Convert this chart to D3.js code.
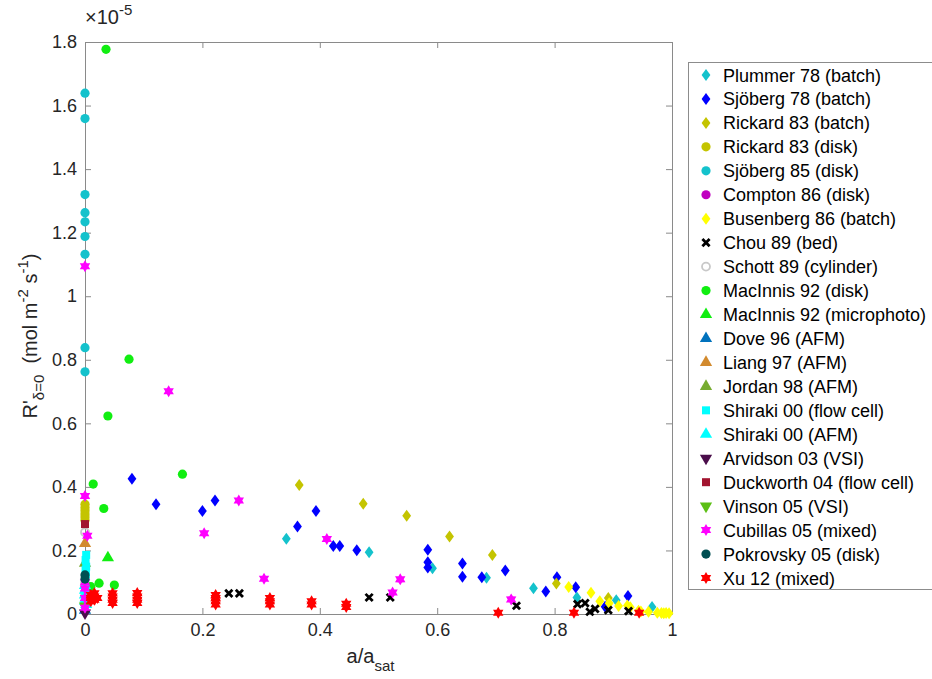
<!DOCTYPE html>
<html lang="en">
<head>
<meta charset="utf-8">
<title>Dissolution rate vs saturation</title>
<script src="https://cdn.jsdelivr.net/npm/d3@7"></script>
<style>
body { margin: 0; background: #fff; }
text { font-family: Arial, "Liberation Sans", sans-serif; }
</style>
</head>
<body>
<script>
// values: x = a/a_sat, y = R' in units of 1e-5 mol m-2 s-1
var plummer78 = [[0.343,0.237],[0.484,0.194],[0.592,0.144],[0.684,0.114],[0.764,0.081],[0.838,0.052],[0.905,0.043],[0.966,0.022]];
var sjoberg78 = [[0.080,0.426],[0.121,0.345],[0.200,0.324],[0.2215,0.357],[0.3935,0.324],[0.362,0.275],[0.423,0.214],[0.434,0.214],
  [0.463,0.201],[0.584,0.202],[0.584,0.163],[0.584,0.146],[0.643,0.159],[0.643,0.117],[0.676,0.116],[0.716,0.137],[0.785,0.071],
  [0.804,0.116],[0.836,0.084],[0.886,0.023],[0.925,0.057]];
var rickard83b = [[0.365,0.406],[0.474,0.347],[0.548,0.309],[0.621,0.244],[0.694,0.186],[0.803,0.096],[0.8915,0.050]];
var rickard83d = [[0,0.345],[0,0.335],[0,0.325],[0,0.315],[0,0.305],[0,0.295]];
var sjoberg85 = [[0,1.639],[0,1.559],[0,1.320],[0,1.263],[0,1.234],[0,1.188],[0,1.132],[0,0.838],[0,0.762]];
var compton86 = [[0.001,0.09],[0.001,0.06],[0.001,0.03]];
var busenberg86 = [[0.824,0.085],[0.862,0.067],[0.877,0.040],[0.893,0.034],[0.909,0.025],[0.924,0.027],[0.929,0.021],[0.943,0.010],
  [0.947,0.008],[0.960,0.007],[0.975,0.004],[0.982,0.003],[0.986,0.002],[0.990,0.003],[0.995,0.002]];
var chou89 = [[0.245,0.065],[0.263,0.065],[0.484,0.052],[0.520,0.052],[0.735,0.026],[0.839,0.031],[0.852,0.034],[0.860,0.007],
  [0.869,0.016],[0.8915,0.012],[0.926,0.009]];
var schott89 = [[0,0.257],[0,0.097],[0,0.06]];
var macinnis92d = [[0.0358,1.777],[0.075,0.802],[0.039,0.623],[0.166,0.440],[0.014,0.409],[0.032,0.332],[0.010,0.086],[0.024,0.097],[0.050,0.091]];
var macinnis92m = [[0.039,0.177]];
var dove96 = [[0,0.012]];
var liang97 = [[0,0.222]];
var jordan98 = [[0,0.16]];
var shiraki00f = [[0.002,0.186],[0.001,0.17],[0.002,0.149],[0.001,0.138],[0.0015,0.125]];
var shiraki00a = [[0,0.09],[0,0.075],[0,0.06],[0.001,0.05],[0,0.04],[0.002,0.03]];
var arvidson03 = [[0,0.003]];
var duckworth04 = [[0,0.283]];
var vinson05 = [[0,0.025]];
var cubillas05 = [[0,1.094],[0.1425,0.701],[0,0.371],[0.004,0.246],[0.203,0.254],[0.262,0.357],[0.305,0.111],[0.412,0.236],
  [0.524,0.068],[0.537,0.109],[0.726,0.046],[0,0.10],[0,0.08],[0,0.05],[0,0.02]];
var pokrovsky05 = [[0,0.123],[0,0.11]];
var xu12 = [[0.010,0.04],[0.010,0.05],[0.010,0.06],[0.016,0.045],[0.016,0.055],[0.016,0.065],[0.021,0.05],
  [0.047,0.035],[0.047,0.045],[0.047,0.055],[0.047,0.065],[0.089,0.035],[0.089,0.045],[0.089,0.055],[0.089,0.066],
  [0.2226,0.03],[0.2226,0.04],[0.2226,0.05],[0.2226,0.06],[0.315,0.03],[0.315,0.04],[0.315,0.05],
  [0.386,0.03],[0.386,0.04],[0.445,0.022],[0.445,0.032],[0.704,0.004],[0.833,0.004],[0.944,0.004]];

var seriesNames = ["Plummer 78 (batch)","Sjöberg 78 (batch)","Rickard 83 (batch)","Rickard 83 (disk)","Sjöberg 85 (disk)",
  "Compton 86 (disk)","Busenberg 86 (batch)","Chou 89 (bed)","Schott 89 (cylinder)","MacInnis 92 (disk)",
  "MacInnis 92 (microphoto)","Dove 96 (AFM)","Liang 97 (AFM)","Jordan 98 (AFM)","Shiraki 00 (flow cell)",
  "Shiraki 00 (AFM)","Arvidson 03 (VSI)","Duckworth 04 (flow cell)","Vinson 05 (VSI)","Cubillas 05 (mixed)",
  "Pokrovsky 05 (disk)","Xu 12 (mixed)"];
var seriesData = [plummer78, sjoberg78, rickard83b, rickard83d, sjoberg85, compton86, busenberg86, chou89, schott89,
  macinnis92d, macinnis92m, dove96, liang97, jordan98, shiraki00f, shiraki00a, arvidson03, duckworth04, vinson05,
  cubillas05, pokrovsky05, xu12];
var xTicks = [0, 0.2, 0.4, 0.6, 0.8, 1];
var yTicks = [0, 0.2, 0.4, 0.6, 0.8, 1, 1.2, 1.4, 1.6, 1.8];

var shapes = ["diamond","diamond","diamond","circle","circle","circle","diamond","x","open","circle",
  "tri","tri","tri","tri","square","tri","down","square","down","star","circle","star"];
var colors = ["#14c2cc","#0000ff","#c4c400","#c4c400","#14c2cc","#c000c0","#ffff00","#000000","#c8c8c8","#11ee11",
  "#11ee11","#0072bd","#d28a2e","#77ac30","#00ffff","#00ffff","#4a0d4a","#a2142f","#5cbf14","#ff00ff","#004f52","#ff0000"];

var W = 932, H = 679;
var plot = {left: 85, top: 42, right: 672, bottom: 614};

var svg = d3.select("body").append("svg").attr("width", W).attr("height", H);

var x = d3.scaleLinear().domain([0, 1]).range([plot.left, plot.right]);
var y = d3.scaleLinear().domain([0, 1.8]).range([plot.bottom, plot.top]);

var axisColor = "#8a8a8a", labelColor = "#262626";

function styleAxis(g) {
  g.select(".domain").attr("stroke", axisColor);
  g.selectAll(".tick line").attr("stroke", axisColor);
  g.selectAll(".tick text").attr("fill", labelColor).style("font-size", "18px").style("font-family", "Arial, 'Liberation Sans', sans-serif");
}

svg.append("g").attr("transform", "translate(0," + plot.bottom + ")")
  .call(d3.axisBottom(x).tickValues(xTicks).tickFormat(d3.format("~g")).tickSize(-6).tickSizeOuter(0).tickPadding(9))
  .call(styleAxis);
svg.append("g").attr("transform", "translate(0," + plot.top + ")")
  .call(d3.axisTop(x).tickValues(xTicks).tickFormat("").tickSize(-6).tickSizeOuter(0))
  .call(styleAxis);
svg.append("g").attr("transform", "translate(" + plot.left + ",0)")
  .call(d3.axisLeft(y).tickValues(yTicks).tickFormat(d3.format("~g")).tickSize(-6).tickSizeOuter(0).tickPadding(8))
  .call(styleAxis);
svg.append("g").attr("transform", "translate(" + plot.right + ",0)")
  .call(d3.axisRight(y).tickValues(yTicks).tickFormat("").tickSize(-6).tickSizeOuter(0))
  .call(styleAxis);

// exponent
var ex = svg.append("text").attr("x", plot.left).attr("y", 24).attr("fill", labelColor).style("font-size", "20px");
ex.append("tspan").text("×10");
ex.append("tspan").attr("dy", -9).style("font-size", "15px").text("-5");

// axis titles
var xl = svg.append("text").attr("x", (plot.left + plot.right) / 2 - 8).attr("y", 663).attr("text-anchor", "middle")
  .attr("fill", labelColor).style("font-size", "20px");
xl.append("tspan").text("a/a");
xl.append("tspan").attr("dy", 8).style("font-size", "15px").text("sat");

var yl = svg.append("text").attr("transform", "translate(37," + 336 + ") rotate(-90)").attr("text-anchor", "middle")
  .attr("fill", labelColor).style("font-size", "20px");
yl.append("tspan").text("R'");
yl.append("tspan").attr("dy", 7).style("font-size", "15px").text("δ=0");
yl.append("tspan").attr("dy", -7).text("\u00a0\u00a0(mol m");
yl.append("tspan").attr("dy", -9).style("font-size", "15px").text("-2");
yl.append("tspan").attr("dy", 9).text(" s");
yl.append("tspan").attr("dy", -9).style("font-size", "15px").text("-1");
yl.append("tspan").attr("dy", 9).text(")");

function star(r) {
  var pts = [];
  for (var i = 0; i < 12; i++) {
    var a = Math.PI / 6 * i - Math.PI / 2;
    var rr = i % 2 === 0 ? r : r * 0.58;
    pts.push([rr * Math.cos(a), rr * Math.sin(a)]);
  }
  return "M" + pts.join("L") + "Z";
}

function drawMarker(g, shape, color) {
  if (shape === "diamond") {
    g.append("path").attr("d", "M0,-6L4.4,0L0,6L-4.4,0Z").attr("fill", color);
  } else if (shape === "circle") {
    g.append("circle").attr("r", 4.6).attr("fill", color);
  } else if (shape === "open") {
    g.append("circle").attr("r", 4).attr("fill", "none").attr("stroke", color).attr("stroke-width", 1.8);
  } else if (shape === "x") {
    g.append("path").attr("d", "M-3.6,-3.6L3.6,3.6M-3.6,3.6L3.6,-3.6").attr("stroke", color).attr("stroke-width", 2.8);
  } else if (shape === "tri") {
    g.append("path").attr("d", d3.symbol(d3.symbolTriangle, 65)()).attr("fill", color);
  } else if (shape === "down") {
    g.append("path").attr("d", d3.symbol(d3.symbolTriangle, 65)()).attr("transform", "rotate(180)").attr("fill", color);
  } else if (shape === "square") {
    g.append("rect").attr("x", -4).attr("y", -4).attr("width", 8).attr("height", 8).attr("fill", color);
  } else if (shape === "star") {
    g.append("path").attr("d", star(6)).attr("fill", color);
  }
}

var marks = svg.append("g");
seriesData.forEach(function(data, i) {
  marks.selectAll(null).data(data).enter().append("g")
    .attr("transform", function(d) { return "translate(" + x(d[0]) + "," + y(d[1]) + ")"; })
    .each(function() { drawMarker(d3.select(this), shapes[i], colors[i]); });
});

// legend
var lg = svg.append("g");
lg.append("rect").attr("x", 688.5).attr("y", 62.5).attr("width", 260).attr("height", 527)
  .attr("fill", "#fff").attr("stroke", "#8c8c8c").attr("stroke-width", 1);
var legendY = d3.scalePoint().domain(seriesNames).range([75, 578]);
seriesNames.forEach(function(name, i) {
  var row = lg.append("g").attr("transform", "translate(0," + legendY(name) + ")");
  drawMarker(row.append("g").attr("transform", "translate(706,0)"), shapes[i], colors[i]);
  row.append("text").attr("x", 723).attr("y", 6.5).attr("fill", "#000").style("font-size", "18px").text(name);
});
</script>
</body>
</html>
